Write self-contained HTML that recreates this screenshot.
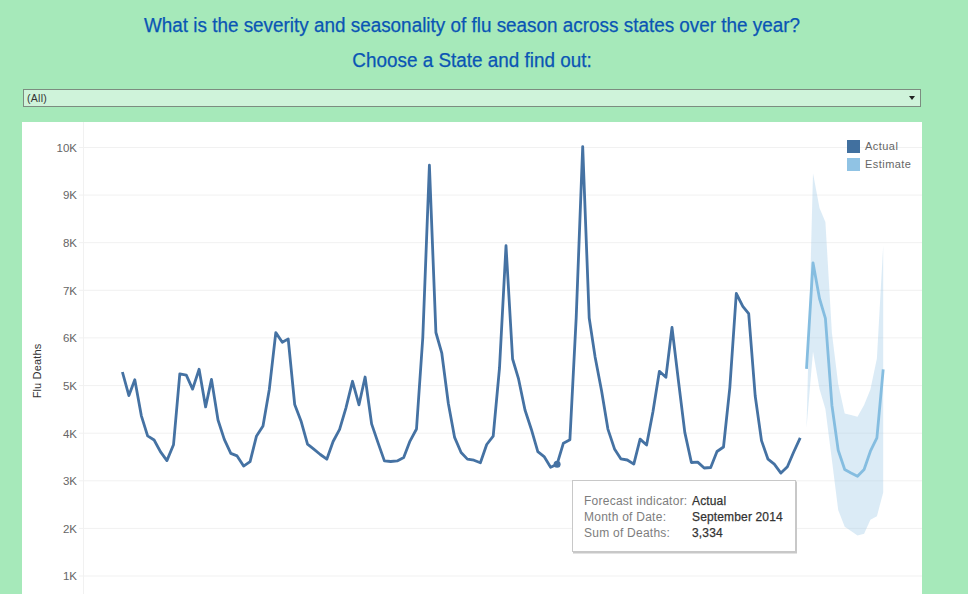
<!DOCTYPE html>
<html><head><meta charset="utf-8">
<style>
html,body{margin:0;padding:0;}
body{width:968px;height:594px;overflow:hidden;background:#a6e9ba;position:relative;font-family:"Liberation Sans",sans-serif;}
.t1{position:absolute;left:22px;width:900px;top:13.6px;text-align:center;font-size:19.6px;color:#0a55b4;-webkit-text-stroke:0.25px #0a55b4;line-height:22px;white-space:nowrap;transform:scaleX(0.964);transform-origin:450px 0;}
.t2{position:absolute;left:22px;width:900px;top:48.6px;text-align:center;font-size:19.6px;color:#0a55b4;-webkit-text-stroke:0.25px #0a55b4;line-height:22px;white-space:nowrap;transform:scaleX(0.964);transform-origin:450px 0;}
.dd{position:absolute;left:23px;top:89px;width:896px;height:16px;border:1px solid #7c8c80;background:#cff3da;}
.dd span{position:absolute;left:3px;top:1px;font-size:10.5px;color:#333;line-height:14px;letter-spacing:0.3px;}
.dd .arr{position:absolute;left:885px;top:6px;width:0;height:0;border-left:3.5px solid transparent;border-right:3.5px solid transparent;border-top:4.5px solid #222;}
.panel{position:absolute;left:22px;top:122px;width:900px;height:472px;background:#fff;}
.ylab{position:absolute;left:37px;top:370.5px;letter-spacing:0.15px;transform:translate(-50%,-50%) rotate(-90deg);font-size:11px;color:#333;white-space:nowrap;line-height:12px;}
.leg{position:absolute;font-size:11px;color:#666;letter-spacing:0.45px;line-height:13px;}
.sq{position:absolute;width:13px;height:13px;}
.tip{position:absolute;left:572px;top:480px;width:222px;height:70px;background:#fff;border:1px solid #c8c8c8;box-shadow:1px 1.5px 0 #c8c8c8;}
.tip div{position:absolute;font-size:12px;line-height:14px;white-space:nowrap;}
.k{color:#7d7d7d;letter-spacing:0.25px;left:11px;}
.v{color:#333;left:119px;letter-spacing:0.15px;-webkit-text-stroke:0.25px #333;}
</style></head><body>
<div class="t1">What is the severity and seasonality of flu season across states over the year?</div>
<div class="t2">Choose a State and find out:</div>
<div class="dd"><span>(All)</span><div class="arr"></div></div>
<div class="panel"></div>
<svg width="968" height="594" viewBox="0 0 968 594" style="position:absolute;left:0;top:0">
<g stroke="#f1f1f1" stroke-width="1"><line x1="79" x2="922" y1="576.0" y2="576.0" /><line x1="79" x2="922" y1="528.4" y2="528.4" /><line x1="79" x2="922" y1="480.8" y2="480.8" /><line x1="79" x2="922" y1="433.2" y2="433.2" /><line x1="79" x2="922" y1="385.6" y2="385.6" /><line x1="79" x2="922" y1="337.9" y2="337.9" /><line x1="79" x2="922" y1="290.3" y2="290.3" /><line x1="79" x2="922" y1="242.7" y2="242.7" /><line x1="79" x2="922" y1="195.1" y2="195.1" /><line x1="79" x2="922" y1="147.5" y2="147.5" /><line x1="83.5" x2="83.5" y1="122" y2="594" shape-rendering="crispEdges"/></g>
<g font-family="Liberation Sans" font-size="11.5" fill="#666" text-anchor="end"><text x="77" y="580.3">1K</text><text x="77" y="532.7">2K</text><text x="77" y="485.1">3K</text><text x="77" y="437.5">4K</text><text x="77" y="389.9">5K</text><text x="77" y="342.2">6K</text><text x="77" y="294.6">7K</text><text x="77" y="247.0">8K</text><text x="77" y="199.4">9K</text><text x="77" y="151.8">10K</text></g>
<path d="M806.5,428.0 L813.0,173.3 L819.5,208.0 L825.4,222.0 L831.9,333.0 L838.2,384.0 L844.7,413.5 L851.0,415.0 L857.5,416.7 L864.1,405.0 L870.4,389.6 L876.9,358.6 L883.2,245.7 L883.2,492.6 L876.9,516.2 L870.4,519.8 L864.1,533.7 L857.5,535.4 L851.0,531.0 L844.7,526.8 L838.2,510.0 L831.9,460.0 L825.4,409.0 L819.5,389.0 L813.0,351.5 L806.5,428.0 Z" fill="rgba(160,203,232,0.38)"/>
<path d="M806.5,368.9 L813.0,262.8 L819.5,298.5 L825.4,318.3 L831.9,405.2 L838.2,450.3 L844.7,469.5 L851.0,473.0 L857.5,476.3 L864.1,469.5 L870.4,451.2 L876.9,437.8 L883.2,369.3" fill="none" stroke="#85bde0" stroke-width="2.8" stroke-linejoin="round"/>
<path d="M122.4,372.0 L128.9,395.6 L134.8,379.8 L141.3,415.6 L147.6,435.9 L154.1,440.0 L160.4,451.7 L166.9,460.6 L173.5,444.8 L179.8,373.9 L186.3,375.1 L192.6,389.1 L199.1,369.3 L205.6,406.9 L211.5,379.4 L218.0,420.0 L224.3,439.4 L230.8,453.4 L237.1,455.9 L243.6,466.1 L250.1,461.7 L256.4,436.3 L263.0,426.0 L269.3,389.4 L275.8,332.6 L282.3,342.2 L288.2,338.9 L294.7,404.5 L301.0,420.9 L307.5,444.2 L313.8,449.2 L320.3,454.5 L326.8,459.2 L333.1,441.5 L339.6,429.4 L345.9,408.1 L352.5,381.3 L359.0,404.8 L365.1,377.0 L371.6,423.9 L377.9,442.4 L384.4,460.9 L390.7,461.5 L397.2,460.9 L403.7,457.5 L410.0,441.1 L416.5,429.0 L422.8,337.5 L429.4,165.2 L435.9,332.5 L441.8,353.2 L448.3,403.3 L454.6,437.4 L461.1,452.5 L467.4,459.1 L473.9,460.2 L480.4,462.8 L486.7,444.5 L493.2,436.2 L499.5,368.0 L506.0,245.7 L512.6,359.0 L518.4,378.3 L525.0,410.0 L531.3,429.2 L537.8,451.6 L544.1,456.6 L550.6,467.2 L557.1,464.2 L563.4,443.2 L569.9,439.8 L576.2,317.6 L582.7,146.6 L589.2,318.0 L595.1,356.9 L601.6,391.0 L607.9,429.1 L614.5,448.9 L620.8,458.8 L627.3,460.0 L633.8,464.1 L640.1,439.1 L646.6,445.0 L652.9,412.0 L659.4,371.3 L665.9,377.3 L672.0,327.5 L678.5,381.3 L684.8,432.4 L691.4,462.5 L697.7,462.1 L704.2,468.0 L710.7,467.5 L717.0,451.5 L723.5,447.0 L729.8,387.8 L736.3,293.5 L742.8,306.3 L748.7,313.7 L755.2,396.0 L761.5,440.6 L768.0,459.2 L774.3,464.2 L780.9,473.1 L787.4,466.7 L793.7,452.0 L800.2,437.8" fill="none" stroke="#4572a3" stroke-width="2.8" stroke-linejoin="round"/>
<circle cx="557.1" cy="464.2" r="3.5" fill="#4572a3"/>
</svg>
<div class="ylab">Flu Deaths</div>
<div class="sq" style="left:847px;top:140px;background:#41709f"></div>
<div class="sq" style="left:847px;top:158px;background:#90c3e4"></div>
<div class="leg" style="left:865px;top:140px">Actual</div>
<div class="leg" style="left:865px;top:158px">Estimate</div>
<div class="tip">
<div class="k" style="top:13px">Forecast indicator:</div><div class="v" style="top:13px">Actual</div>
<div class="k" style="top:29px">Month of Date:</div><div class="v" style="top:29px">September 2014</div>
<div class="k" style="top:45px">Sum of Deaths:</div><div class="v" style="top:45px">3,334</div>
</div>
</body></html>
